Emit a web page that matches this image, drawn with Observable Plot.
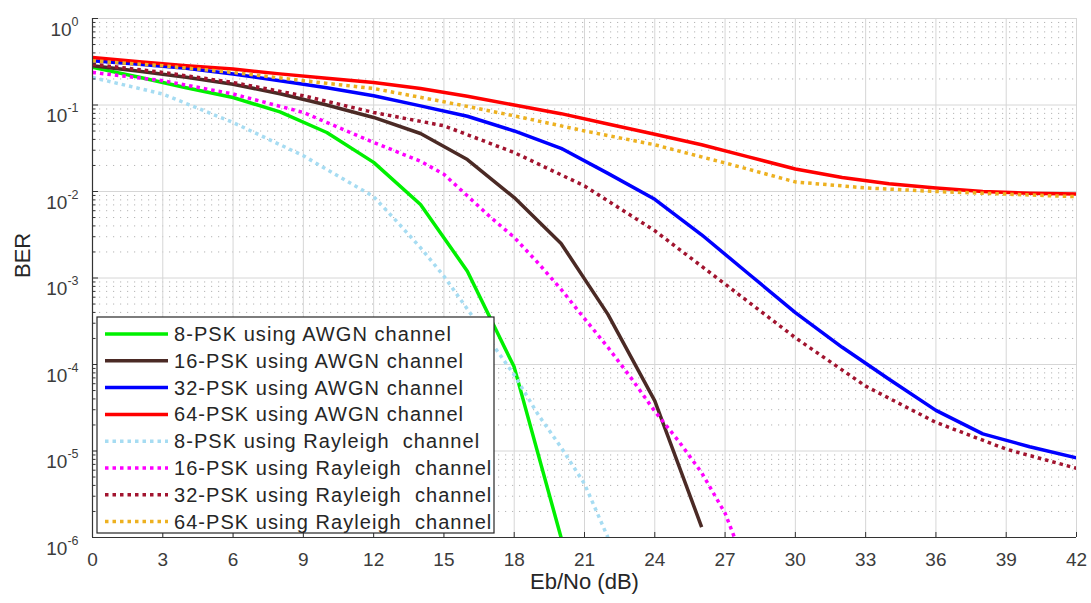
<!DOCTYPE html>
<html>
<head>
<meta charset="utf-8">
<script src="https://cdn.jsdelivr.net/npm/d3@7"></script>
<script src="https://cdn.jsdelivr.net/npm/@observablehq/plot@0.6"></script>
<style>
  body { margin: 0; background: #fff; }
  #chart { position: relative; width: 1091px; height: 603px; }
</style>
</head>
<body>
<div id="chart"></div>
<script>
// ---- BER vs Eb/No for M-PSK over AWGN and Rayleigh channels ----

// AWGN curves, simulated every 2 dB
const ebnoAwgn8  = [0, 2, 4, 6, 8, 10, 12, 14, 16, 18, 20];
const berAwgn8   = [0.272, 0.209, 0.158, 0.122, 0.0832, 0.0481, 0.0217, 0.00708, 0.00120, 9.33e-5, 1.0e-6];

const ebnoAwgn16 = [0, 2, 4, 6, 8, 10, 12, 14, 16, 18, 20, 22, 24, 26];
const berAwgn16  = [0.284, 0.245, 0.209, 0.174, 0.135, 0.100, 0.0718, 0.0468, 0.0234, 0.00851, 0.00251, 3.80e-4, 3.80e-5, 1.32e-6];

const ebnoAwgn32 = [0, 2, 4, 6, 8, 10, 12, 14, 16, 18, 20, 22, 24, 26, 28, 30, 32, 34, 36, 38, 40, 42];
const berAwgn32  = [0.324, 0.295, 0.266, 0.228, 0.191, 0.158, 0.128, 0.0977, 0.0741, 0.0501, 0.0316, 0.0162,
                    0.00813, 0.00316, 0.00112, 3.98e-4, 1.58e-4, 6.76e-5, 2.95e-5, 1.58e-5, 1.12e-5, 8.32e-6];

const ebnoAwgn64 = [0, 2, 4, 6, 8, 10, 12, 14, 16, 18, 20, 22, 24, 26, 28, 30, 32, 34, 36, 38, 40, 42];
const berAwgn64  = [0.355, 0.316, 0.285, 0.260, 0.229, 0.204, 0.182, 0.155, 0.126, 0.100, 0.0794, 0.0603,
                    0.0460, 0.0347, 0.0251, 0.0182, 0.0145, 0.0123, 0.0110, 0.0100, 0.00955, 0.00933];

// Rayleigh fading curves
const ebnoRay8  = [0, 3, 6, 9, 12, 13, 14, 15, 16, 17, 18, 19, 20, 21, 22];
const berRay8   = [0.208, 0.134, 0.0628, 0.0259, 0.00871, 0.00447, 0.00224, 0.00105, 4.37e-4, 1.82e-4,
                   7.59e-5, 2.69e-5, 1.10e-5, 4.17e-6, 1.0e-6];

const ebnoRay16 = [0, 3, 6, 9, 12, 14, 15, 16, 17, 18, 19, 20, 21, 22, 23, 24, 25, 26, 27, 27.4];
const berRay16  = [0.238, 0.191, 0.134, 0.0820, 0.0369, 0.0224, 0.0158, 0.00891, 0.00501, 0.00295, 0.00151,
                   7.41e-4, 3.39e-4, 1.58e-4, 6.92e-5, 2.88e-5, 1.32e-5, 5.62e-6, 1.91e-6, 1.0e-6];

const ebnoRay32 = [0, 3, 6, 9, 12, 15, 18, 21, 24, 27, 30, 33, 36, 39, 42];
const berRay32  = [0.296, 0.238, 0.182, 0.128, 0.0820, 0.0575, 0.0282, 0.0116, 0.00352, 8.51e-4, 2.04e-4,
                   5.62e-5, 2.14e-5, 1.05e-5, 6.31e-6];

const ebnoRay64 = [0, 3, 6, 9, 12, 15, 18, 21, 24, 27, 30, 33, 36, 39, 42];
const berRay64  = [0.324, 0.284, 0.238, 0.191, 0.155, 0.109, 0.0750, 0.0501, 0.0347, 0.0214, 0.0129,
                   0.0110, 0.0100, 0.00933, 0.00871];

// Legend labels (in plotting order)
const seriesNames = [
  "8-PSK using AWGN channel",
  "16-PSK using AWGN channel",
  "32-PSK using AWGN channel",
  "64-PSK using AWGN channel",
  "8-PSK using Rayleigh  channel",
  "16-PSK using Rayleigh  channel",
  "32-PSK using Rayleigh  channel",
  "64-PSK using Rayleigh  channel"
];
const seriesColors = ["#00f000", "#4b2a25", "#0000ff", "#ff0000", "#a6dcf2", "#ff00ff", "#a2142f", "#edb120"];
const seriesDotted = [false, false, false, false, true, true, true, true];

// Axis ticks
const xTicks = d3.range(0, 43, 3);
const yDecades = [1e-6, 1e-5, 1e-4, 1e-3, 1e-2, 1e-1, 1];
const yMinor = d3.range(-6, 0).flatMap(e => d3.range(2, 10).map(m => m * Math.pow(10, e)));

const seriesData = [
  [ebnoAwgn8, berAwgn8], [ebnoAwgn16, berAwgn16], [ebnoAwgn32, berAwgn32], [ebnoAwgn64, berAwgn64],
  [ebnoRay8, berRay8], [ebnoRay16, berRay16], [ebnoRay32, berRay32], [ebnoRay64, berRay64]
].map(([xs, ys], i) => xs.map((x, j) => ({ebno: x, ber: ys[j], series: seriesNames[i]})));

const lineWidth = 3.5;
const dash = "3.5,4";

const W = 1091, H = 603;
const M = {left: 92, right: 15, top: 18, bottom: 66};
const axisColor = "#333333";
const tickTextColor = "#3c3c3c";

const plot = Plot.plot({
  width: W,
  height: H,
  marginLeft: M.left,
  marginRight: M.right,
  marginTop: M.top,
  marginBottom: M.bottom,
  style: {fontFamily: "'Liberation Sans', Arial, sans-serif", fontSize: "19px", color: axisColor, background: "#fff"},
  x: {domain: [0, 42], label: null},
  y: {type: "log", domain: [1e-6, 1], label: null},
  marks: [
    // minor (dotted) horizontal grid
    Plot.ruleY(yMinor, {stroke: "#b4b4b4", strokeWidth: 1, strokeDasharray: "1.2,5.8"}),
    // major grid
    Plot.gridX(xTicks, {stroke: "#d6d6d6", strokeOpacity: 1, strokeWidth: 1}),
    Plot.gridY(yDecades, {stroke: "#d6d6d6", strokeOpacity: 1, strokeWidth: 1}),
    // curves
    ...seriesData.map((rows, i) => Plot.line(rows, {
      x: "ebno", y: "ber",
      stroke: seriesColors[i],
      strokeWidth: lineWidth,
      strokeDasharray: seriesDotted[i] ? dash : null,
      strokeLinecap: "butt",
      strokeLinejoin: "round",
      clip: true
    })),
    // axes (ticks point inward)
    Plot.ruleX([0], {stroke: axisColor, strokeWidth: 1.2}),
    Plot.ruleY([1e-6], {stroke: axisColor, strokeWidth: 1.2}),
    Plot.axisX(xTicks, {tickSize: -5, tickPadding: 20, stroke: axisColor, fill: tickTextColor, fontSize: 19, label: null, tickFormat: d => String(d)}),
    Plot.axisY(yDecades, {tickSize: -6, tickPadding: 20, stroke: axisColor, fill: tickTextColor, fontSize: 19, label: null, tickFormat: d => "10^" + Math.round(Math.log10(d))}),
    Plot.axisY(yMinor, {tickSize: -3.5, stroke: axisColor, fill: "none", label: null}),
    // axis titles
    Plot.text(["BER"], {frameAnchor: "left", dx: -70, rotate: -90, text: d => d, fill: "#262626", fontSize: 22}),
    Plot.text(["Eb/No (dB)"], {frameAnchor: "bottom", dy: 51, text: d => d, fill: "#262626", fontSize: 22})
  ]
});

// Power-of-ten tick labels with superscript exponents
d3.select(plot).selectAll('g[aria-label="y-axis tick label"] text').each(function () {
  const t = this.textContent;
  if (!t.includes("^")) return;
  const exp = t.split("^")[1];
  const sel = d3.select(this);
  sel.text(null).attr("dy", null);
  sel.append("tspan").attr("dy", 11).text("10");
  sel.append("tspan").attr("dy", -10).attr("font-size", 12.5).text(exp);
});

// Legend box in the lower-left corner of the plot area
const lg = d3.select(plot).append("g").attr("aria-label", "legend").attr("text-anchor", "start");
const box = {x: 97, y: 317, w: 397, h: 216};
lg.append("rect")
  .attr("x", box.x).attr("y", box.y).attr("width", box.w).attr("height", box.h)
  .attr("fill", "#fff").attr("stroke", "#262626").attr("stroke-width", 1.2);
seriesNames.forEach((name, i) => {
  const cy = 334 + i * 26.8;
  lg.append("line")
    .attr("x1", 105).attr("x2", 168).attr("y1", cy).attr("y2", cy)
    .attr("stroke", seriesColors[i]).attr("stroke-width", lineWidth)
    .attr("stroke-dasharray", seriesDotted[i] ? dash : null);
  lg.append("text")
    .attr("x", 174).attr("y", cy).attr("dy", "0.35em")
    .attr("text-anchor", "start")
    .attr("fill", "#262626").attr("font-size", 20)
    .attr("letter-spacing", 1.05)
    .style("white-space", "pre")
    .text(name);
});

document.getElementById("chart").appendChild(plot);
</script>
</body>
</html>
